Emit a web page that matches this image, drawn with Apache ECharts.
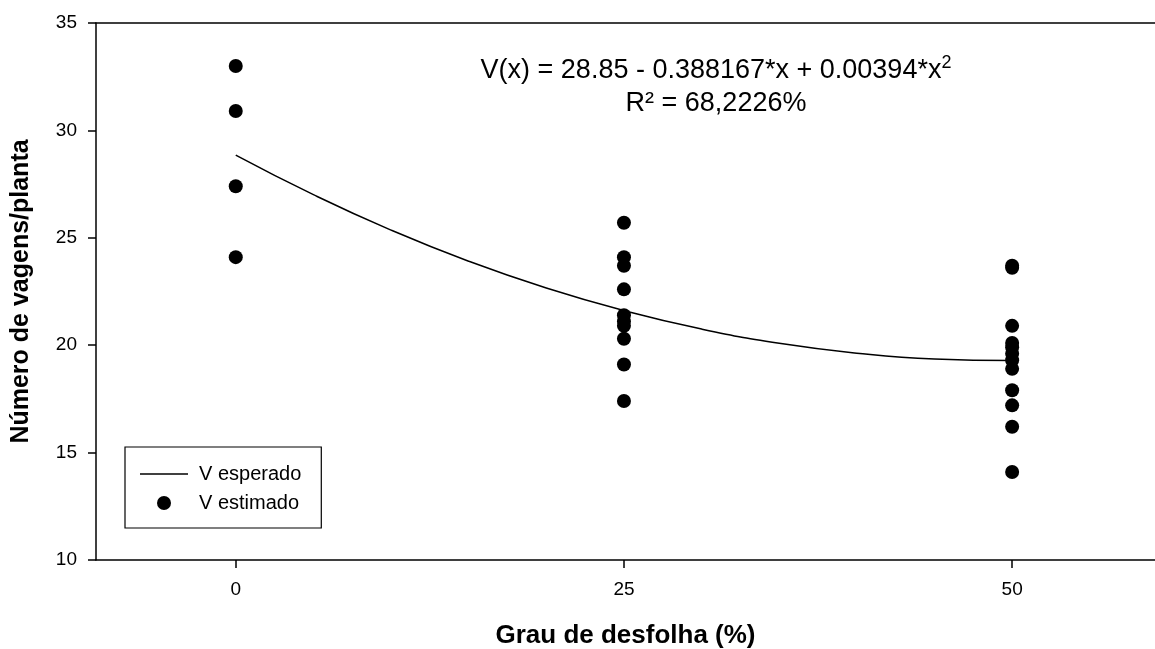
<!DOCTYPE html>
<html>
<head>
<meta charset="utf-8">
<script src="https://cdn.jsdelivr.net/npm/echarts@6/dist/echarts.min.js"></script>
<style>html,body{margin:0;padding:0;background:#fff}#c{width:1155px;height:649px}</style>
</head>
<body>
<div id="c"></div>
<script>
// Data
const xTicks = [0, 25, 50];
const yTicks = [10, 15, 20, 25, 30, 35];
const obs0 = [33.0, 30.9, 27.4, 24.1];
const obs25 = [25.7, 24.1, 23.7, 22.6, 21.4, 21.1, 20.9, 20.3, 19.1, 17.4];
const obs50 = [23.7, 23.6, 20.9, 20.1, 19.9, 19.6, 19.3, 18.9, 17.9, 17.2, 16.2, 14.1];
const curveX = [0, 5, 10, 15, 20, 25, 30, 35, 40, 45, 50];
const curveY = [28.85, 27.01, 25.36, 23.91, 22.66, 21.61, 20.75, 20.09, 19.63, 19.36, 19.29];
const seriesNames = ['V esperado', 'V estimado'];
const equationText = 'V(x) = 28.85 - 0.388167*x + 0.00394*x';
const r2Text = 'R² = 68,2226%';
const xTitle = 'Grau de desfolha (%)';
const yTitle = 'Número de vagens/planta';

const scatterData = []
  .concat(obs0.map(v => [0, v]))
  .concat(obs25.map(v => [25, v]))
  .concat(obs50.map(v => [50, v]));
const curveData = curveX.map((x, i) => [x, curveY[i]]);

const FONT = 'Liberation Sans, Arial, sans-serif';
const LINE_ICON = 'path://M0,0L0,0M0,6.3L48,6.3L48,7.7L0,7.7ZM48,14L48,14';
const chart = echarts.init(document.getElementById('c'), null, {renderer: 'canvas'});
chart.setOption({
  animation: false,
  backgroundColor: '#fff',
  grid: {left: 96, right: 0, top: 23, bottom: 89, containLabel: false, outerBoundsMode: 'none'},
  title: {
    left: 711, top: 49, textAlign: 'center',
    text: '{a|' + equationText + '}{s|2}\n{a|' + r2Text + '}',
    textStyle: {
      fontWeight: 'normal',
      rich: {
        a: {fontFamily: FONT, fontSize: 27, fontWeight: 'normal', color: '#000', lineHeight: 33},
        s: {fontFamily: FONT, fontSize: 18, fontWeight: 'normal', color: '#000', lineHeight: 33, verticalAlign: 'top', padding: [0,0,13,0]}
      }
    }
  },
  legend: {
    orient: 'vertical', left: 125, top: 447,
    padding: [17, 20, 15, 15],
    borderColor: '#000', borderWidth: 1.2, borderRadius: 0,
    itemWidth: 48, itemHeight: 14, itemGap: 9,
    textStyle: {fontFamily: FONT, fontSize: 20, color: '#000', padding: [0, 0, 0, 6]},
    data: [
      {name: seriesNames[0], icon: LINE_ICON, itemStyle: {color: '#000', borderWidth: 0}},
      {name: seriesNames[1], icon: 'circle'}
    ]
  },
  xAxis: [{
    type: 'value', min: -9, max: 59.2, position: 'bottom',
    name: xTitle, nameLocation: 'middle', nameGap: 63,
    nameTextStyle: {fontFamily: FONT, fontSize: 26, fontWeight: 'bold', color: '#000'},
    axisLine: {show: true, onZero: false, lineStyle: {color: '#000', width: 1.5}},
    axisTick: {show: true, inside: false, length: 8, customValues: xTicks, lineStyle: {color: '#000', width: 1.5}},
    axisLabel: {show: true, margin: 20, fontFamily: FONT, fontSize: 19, color: '#000', customValues: xTicks},
    splitLine: {show: false}
  }, {
    type: 'value', min: -9, max: 59.2, position: 'top',
    axisLine: {show: true, onZero: false, lineStyle: {color: '#000', width: 1.5}},
    axisTick: {show: false}, axisLabel: {show: false}, splitLine: {show: false}
  }],
  yAxis: {
    type: 'value', min: 10, max: 35, interval: 5,
    name: yTitle, nameLocation: 'middle', nameGap: 62, nameRotate: 90,
    nameTextStyle: {fontFamily: FONT, fontSize: 25, fontWeight: 'bold', color: '#000'},
    axisLine: {show: true, onZero: false, lineStyle: {color: '#000', width: 1.5}},
    axisTick: {show: true, inside: false, length: 8, lineStyle: {color: '#000', width: 1.5}},
    axisLabel: {margin: 19, fontFamily: FONT, fontSize: 19, color: '#000', customValues: yTicks},
    splitLine: {show: false}
  },
  series: [{
    name: seriesNames[0], type: 'line', data: curveData, smooth: true,
    symbol: 'none', lineStyle: {color: '#000', width: 1.5}, itemStyle: {color: '#000'}, z: 2
  }, {
    name: seriesNames[1], type: 'scatter', data: scatterData,
    symbol: 'circle', symbolSize: 14, itemStyle: {color: '#000', opacity: 1}, z: 3
  }]
});
</script>
</body>
</html>
